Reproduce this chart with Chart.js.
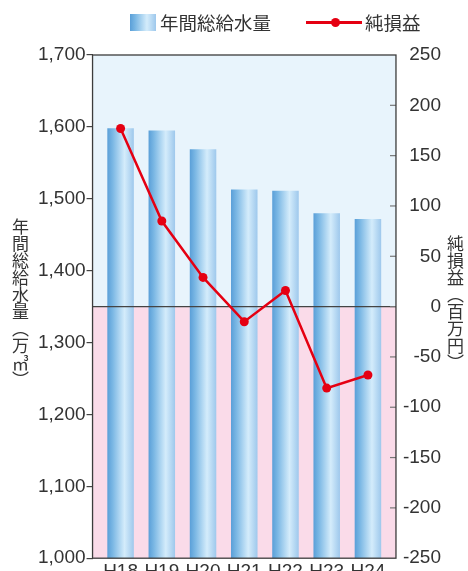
<!DOCTYPE html>
<html>
<head>
<meta charset="utf-8">
<script src="https://cdn.jsdelivr.net/npm/chart.js@4"></script>
<style>
  body { margin: 0; background: #fff; }
  #wrap { position: relative; width: 468px; height: 571px; overflow: hidden; }
  #chart { position: absolute; left: 0; top: 0; }
  .lg { position: absolute; font-family: "Noto Sans CJK JP", sans-serif; font-size: 18.5px; color: #333; line-height: 1; }
  .box { position: absolute; left: 130px; top: 14px; width: 26px; height: 17px;
    background: linear-gradient(to right, #5a9fd8, #7ab7e4 20%, #d4ecfb 65%, #9ec8ec); }
  .ln { position: absolute; left: 306px; top: 21px; width: 56px; height: 2.5px; background: #e50012; }
  .dot { position: absolute; left: 331px; top: 18px; width: 9px; height: 9px; border-radius: 50%; background: #e50012; }
  .vt { position: absolute; writing-mode: vertical-rl; font-family: "Noto Sans CJK JP", sans-serif; font-size: 17px; color: #333; line-height: 1; }
</style>
</head>
<body>
<div id="wrap">
  <canvas id="chart" width="468" height="595"></canvas>
  <div class="box"></div>
  <div class="lg" style="left:160px; top:13px;">年間総給水量</div>
  <div class="ln"></div>
  <div class="dot"></div>
  <div class="lg" style="left:365px; top:13px;">純損益</div>
  <div class="vt" style="left:12px; top:218px;">年間総給水量（万㎥）</div>
  <div class="vt" style="left:447px; top:235px;">純損益（百万円）</div>
</div>
<script>
// data
const years = ["H18", "H19", "H20", "H21", "H22", "H23", "H24"];
const waterSupply = [1598, 1595, 1569, 1513, 1511, 1480, 1472]; // 万㎥
const netIncome = [177, 85, 29, -15, 16, -81, -68]; // 百万円

const leftMin = 1000, leftMax = 1700, leftStep = 100;
const rightMin = -250, rightMax = 250, rightStep = 50;

const RED = "#e50012";
const TEXT = "#333";
const numFont = { family: "'Liberation Sans', Arial, sans-serif", size: 19 };
const BAR_PCT = 0.643;

function barFill(c) {
  const chart = c.chart;
  if (!chart.chartArea || c.type !== "data") return "#8ec3ea";
  const xs = chart.scales.x;
  const cx = xs.getPixelForValue(c.dataIndex);
  const w = (xs.getPixelForValue(1) - xs.getPixelForValue(0)) * BAR_PCT;
  const g = chart.ctx.createLinearGradient(cx - w / 2, 0, cx + w / 2, 0);
  g.addColorStop(0, "#5a9fd8");
  g.addColorStop(0.2, "#7ab7e4");
  g.addColorStop(0.65, "#d4ecfb");
  g.addColorStop(1, "#9ec8ec");
  return g;
}

// backgrounds, zero line, frame and the inward ticks of the right axis
const framePlugin = {
  id: "frame",
  beforeDatasetsDraw(chart) {
    const { ctx, chartArea: a, scales } = chart;
    const y0 = scales.y1.getPixelForValue(0);
    ctx.save();
    ctx.fillStyle = "#e8f4fc";
    ctx.fillRect(a.left, a.top, a.width, y0 - a.top);
    ctx.fillStyle = "#fadbe9";
    ctx.fillRect(a.left, y0, a.width, a.bottom - y0);
    ctx.restore();
  },
  afterDatasetDraw(chart, args) {
    if (args.meta.type !== "bar") return;
    const { ctx, chartArea: a, scales } = chart;
    const y0 = scales.y1.getPixelForValue(0);
    ctx.save();
    ctx.strokeStyle = "#444";
    ctx.lineWidth = 1.3;
    ctx.beginPath();
    ctx.moveTo(a.left, y0);
    ctx.lineTo(a.right, y0);
    ctx.stroke();
    ctx.restore();
  },
  afterDraw(chart) {
    const { ctx, chartArea: a, scales } = chart;
    ctx.save();
    ctx.strokeStyle = "#777";
    ctx.lineWidth = 1.2;
    scales.y1.ticks.forEach(t => {
      if (t.value === rightMin || t.value === rightMax) return;
      const y = scales.y1.getPixelForValue(t.value);
      ctx.beginPath();
      ctx.moveTo(a.right - 6, y);
      ctx.lineTo(a.right, y);
      ctx.stroke();
    });
    ctx.strokeStyle = "#3c3c3c";
    ctx.lineWidth = 1.3;
    ctx.strokeRect(a.left, a.top, a.width, a.height);
    ctx.restore();
  }
};

new Chart(document.getElementById("chart"), {
  type: "bar",
  data: {
    datasets: [
      {
        type: "line",
        label: "純損益",
        data: netIncome.map((v, i) => ({ x: i, y: v })),
        yAxisID: "y1",
        borderColor: RED,
        backgroundColor: RED,
        borderWidth: 2.5,
        pointRadius: 4.5,
        pointBorderWidth: 0,
        pointBackgroundColor: RED,
        tension: 0
      },
      {
        type: "bar",
        label: "年間総給水量",
        data: waterSupply.map((v, i) => ({ x: i, y: v })),
        yAxisID: "y",
        backgroundColor: barFill,
        categoryPercentage: 1,
        barPercentage: BAR_PCT
      }
    ]
  },
  options: {
    responsive: false,
    animation: false,
    layout: { padding: { left: 37, right: 27, top: 55, bottom: 10 } },
    plugins: { legend: { display: false }, tooltip: { enabled: false } },
    scales: {
      x: {
        type: "linear",
        offset: false,
        min: -0.68,
        max: 6.68,
        afterBuildTicks: s => { s.ticks = years.map((_, i) => ({ value: i })); },
        ticks: { callback: v => years[v], font: numFont, color: TEXT, padding: 2, autoSkip: false, maxRotation: 0 },
        grid: { display: false, tickLength: 0 },
        border: { display: false }
      },
      y: {
        position: "left",
        min: leftMin,
        max: leftMax,
        ticks: { stepSize: leftStep, font: numFont, color: TEXT, padding: 1,
          callback: v => v.toLocaleString("en-US") },
        grid: { drawOnChartArea: false, tickLength: 6, color: "#444", lineWidth: 1.2 },
        border: { display: false }
      },
      y1: {
        position: "right",
        min: rightMin,
        max: rightMax,
        ticks: { stepSize: rightStep, font: numFont, color: TEXT, padding: 3.5, crossAlign: "far" },
        grid: { display: false, tickLength: 0 },
        border: { display: false }
      }
    }
  },
  plugins: [framePlugin]
});
</script>
</body>
</html>
